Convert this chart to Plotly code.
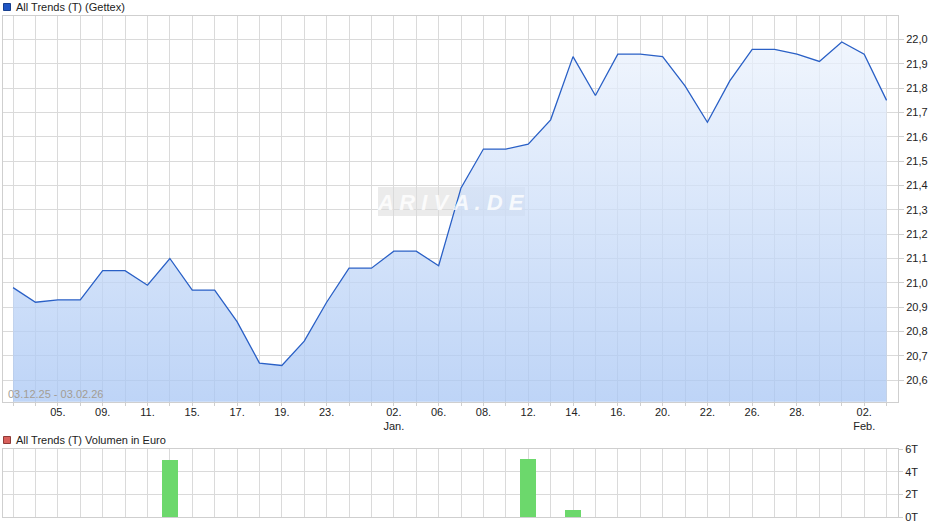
import plotly.graph_objects as go

# ---- data ----
dates = ["03.12.25","04.12.25","05.12.25","08.12.25","09.12.25","10.12.25","11.12.25","12.12.25",
         "15.12.25","16.12.25","17.12.25","18.12.25","19.12.25","22.12.25","23.12.25","29.12.25",
         "30.12.25","02.01.26","05.01.26","06.01.26","07.01.26","08.01.26","09.01.26","12.01.26",
         "13.01.26","14.01.26","15.01.26","16.01.26","19.01.26","20.01.26","21.01.26","22.01.26",
         "23.01.26","26.01.26","27.01.26","28.01.26","29.01.26","30.01.26","02.02.26","03.02.26"]
prices = [20.98,20.92,20.93,20.93,21.05,21.05,20.99,21.10,20.97,20.97,
          20.84,20.67,20.66,20.76,20.92,21.06,21.06,21.13,21.13,21.07,
          21.39,21.55,21.55,21.57,21.67,21.93,21.77,21.94,21.94,21.93,
          21.81,21.66,21.83,21.96,21.96,21.94,21.91,21.99,21.94,21.75]
volumes = [0,0,0,0,0,0,0,5050,0,0,0,0,0,0,0,0,0,0,0,0,
           0,0,0,5140,0,600,0,0,0,0,0,0,0,0,0,0,0,0,0,0]
tick_dates = ["05.12.25","09.12.25","11.12.25","15.12.25","17.12.25","19.12.25","23.12.25",
              "02.01.26","06.01.26","08.01.26","12.01.26","14.01.26","16.01.26","20.01.26",
              "22.01.26","26.01.26","28.01.26","02.02.26"]
tick_labels = ["05.","09.","11.","15.","17.","19.","23.","02.<br>Jan.","06.","08.","12.","14.",
               "16.","20.","22.","26.","28.","02.<br>Feb."]
vol_ticks = [0, 2000, 4000, 6000]
vol_labels = ["0T", "2T", "4T", "6T"]
price_title = "All Trends (T) (Gettex)"
vol_title = "All Trends (T) Volumen in Euro"
range_text = "03.12.25 - 03.02.26"

xs = list(range(len(dates)))
label_map = dict(zip(tick_dates, tick_labels))
ticktext = [label_map.get(d, "") for d in dates]

W, H = 940, 526
ML, MR, MT, MB = 3, 42, 16, 9
PW, PH = W - ML - MR, H - MT - MB


def px_x(p):
    return (p - ML) / PW


def px_y(p):
    return (H - MB - p) / PH


FONT = "Liberation Sans, Arial, sans-serif"
GRID = "#dadada"
BORDER = "#cfcfcf"

fig = go.Figure()

fig.add_trace(go.Scatter(
    x=xs, y=prices, mode="lines",
    line=dict(color="#2a60c6", width=1.3),
    fill="tozeroy",
    fillgradient=dict(type="vertical", start=20.51, stop=22.05,
                      colorscale=[[0, "rgba(168,198,244,0.75)"], [1, "rgba(238,244,253,0.75)"]]),
    hoverinfo="skip", showlegend=False, xaxis="x", yaxis="y"))

fig.add_trace(go.Bar(
    x=xs, y=volumes, marker=dict(color="#6cd86c", line=dict(width=0)), width=0.72,
    hoverinfo="skip", showlegend=False, xaxis="x2", yaxis="y2"))

xcommon = dict(range=[-0.45, 39.51], tickmode="array", tickvals=xs,
               showgrid=True, gridcolor=GRID, gridwidth=1, zeroline=False,
               showline=True, linecolor=BORDER, mirror=True, fixedrange=True)

fig.update_layout(
    width=W, height=H,
    margin=dict(l=ML, r=MR, t=MT, b=MB),
    paper_bgcolor="white", plot_bgcolor="white",
    separators=",.",
    font=dict(family=FONT, size=11, color="#222222"),
    xaxis=dict(**xcommon, ticktext=ticktext, ticks="", ticklen=0,
               minor=dict(ticks="outside", ticklen=3, tickcolor=BORDER, tick0=0, dtick=1,
                          showgrid=False),
               tickfont=dict(size=11, color="#222222"), anchor="y"),
    yaxis=dict(domain=[px_y(401.7), 1], range=[20.511, 22.097], side="right",
               tick0=0, dtick=0.1, tickformat=".1f", showgrid=True, gridcolor=GRID,
               zeroline=False, showline=True, linecolor=BORDER, mirror=True,
               ticks="outside", ticklen=5, tickcolor=BORDER,
               tickfont=dict(size=11, color="#222222"), fixedrange=True),
    xaxis2=dict(**xcommon, ticktext=["" for _ in xs], ticks="", anchor="y2", matches="x"),
    yaxis2=dict(domain=[0, px_y(449.3)], range=[0, 6000], side="right",
                tickmode="array", tickvals=vol_ticks, ticktext=vol_labels,
                showgrid=True, gridcolor=GRID, zeroline=False, showline=True,
                linecolor=BORDER, mirror=True, ticks="outside", ticklen=4, tickcolor=BORDER,
                tickfont=dict(size=11, color="#222222"), fixedrange=True, anchor="x2"),
    bargap=0,
)

# legend squares
fig.add_shape(type="rect", xref="paper", yref="paper",
              x0=px_x(3.5), x1=px_x(10.5), y0=px_y(10.5), y1=px_y(3.5),
              fillcolor="#1f55c4", line=dict(color="#173f8f", width=1))
fig.add_shape(type="rect", xref="paper", yref="paper",
              x0=px_x(3.5), x1=px_x(10.5), y0=px_y(443.5), y1=px_y(436.5),
              fillcolor="#d9605c", line=dict(color="#8f3a37", width=1))

fig.add_annotation(text=price_title, xref="paper", yref="paper", x=px_x(14), y=px_y(6.5),
                   xanchor="left", yanchor="middle", showarrow=False,
                   font=dict(size=11, color="#222222"))
fig.add_annotation(text=vol_title, xref="paper", yref="paper", x=px_x(14), y=px_y(440),
                   xanchor="left", yanchor="middle", showarrow=False,
                   font=dict(size=11, color="#222222"))
fig.add_annotation(text=range_text, xref="paper", yref="paper", x=px_x(6), y=px_y(394),
                   xanchor="left", yanchor="middle", showarrow=False,
                   font=dict(size=11, color="#a39d94"))

# watermark
fig.add_shape(type="rect", xref="paper", yref="paper", layer="below",
              x0=px_x(378), x1=px_x(525), y0=px_y(216), y1=px_y(187),
              fillcolor="rgba(205,205,205,0.4)", line=dict(width=0))
fig.add_annotation(text="<b><i>A R I V A . D E</i></b>", xref="paper", yref="paper",
                   x=px_x(451), y=px_y(202), xanchor="center", yanchor="middle",
                   showarrow=False, opacity=0.8,
                   font=dict(size=22, color="white", family=FONT))

fig.write_html("out.html", config={"displayModeBar": False},
               post_script="document.body.style.margin='0';document.body.style.overflow='hidden';")
